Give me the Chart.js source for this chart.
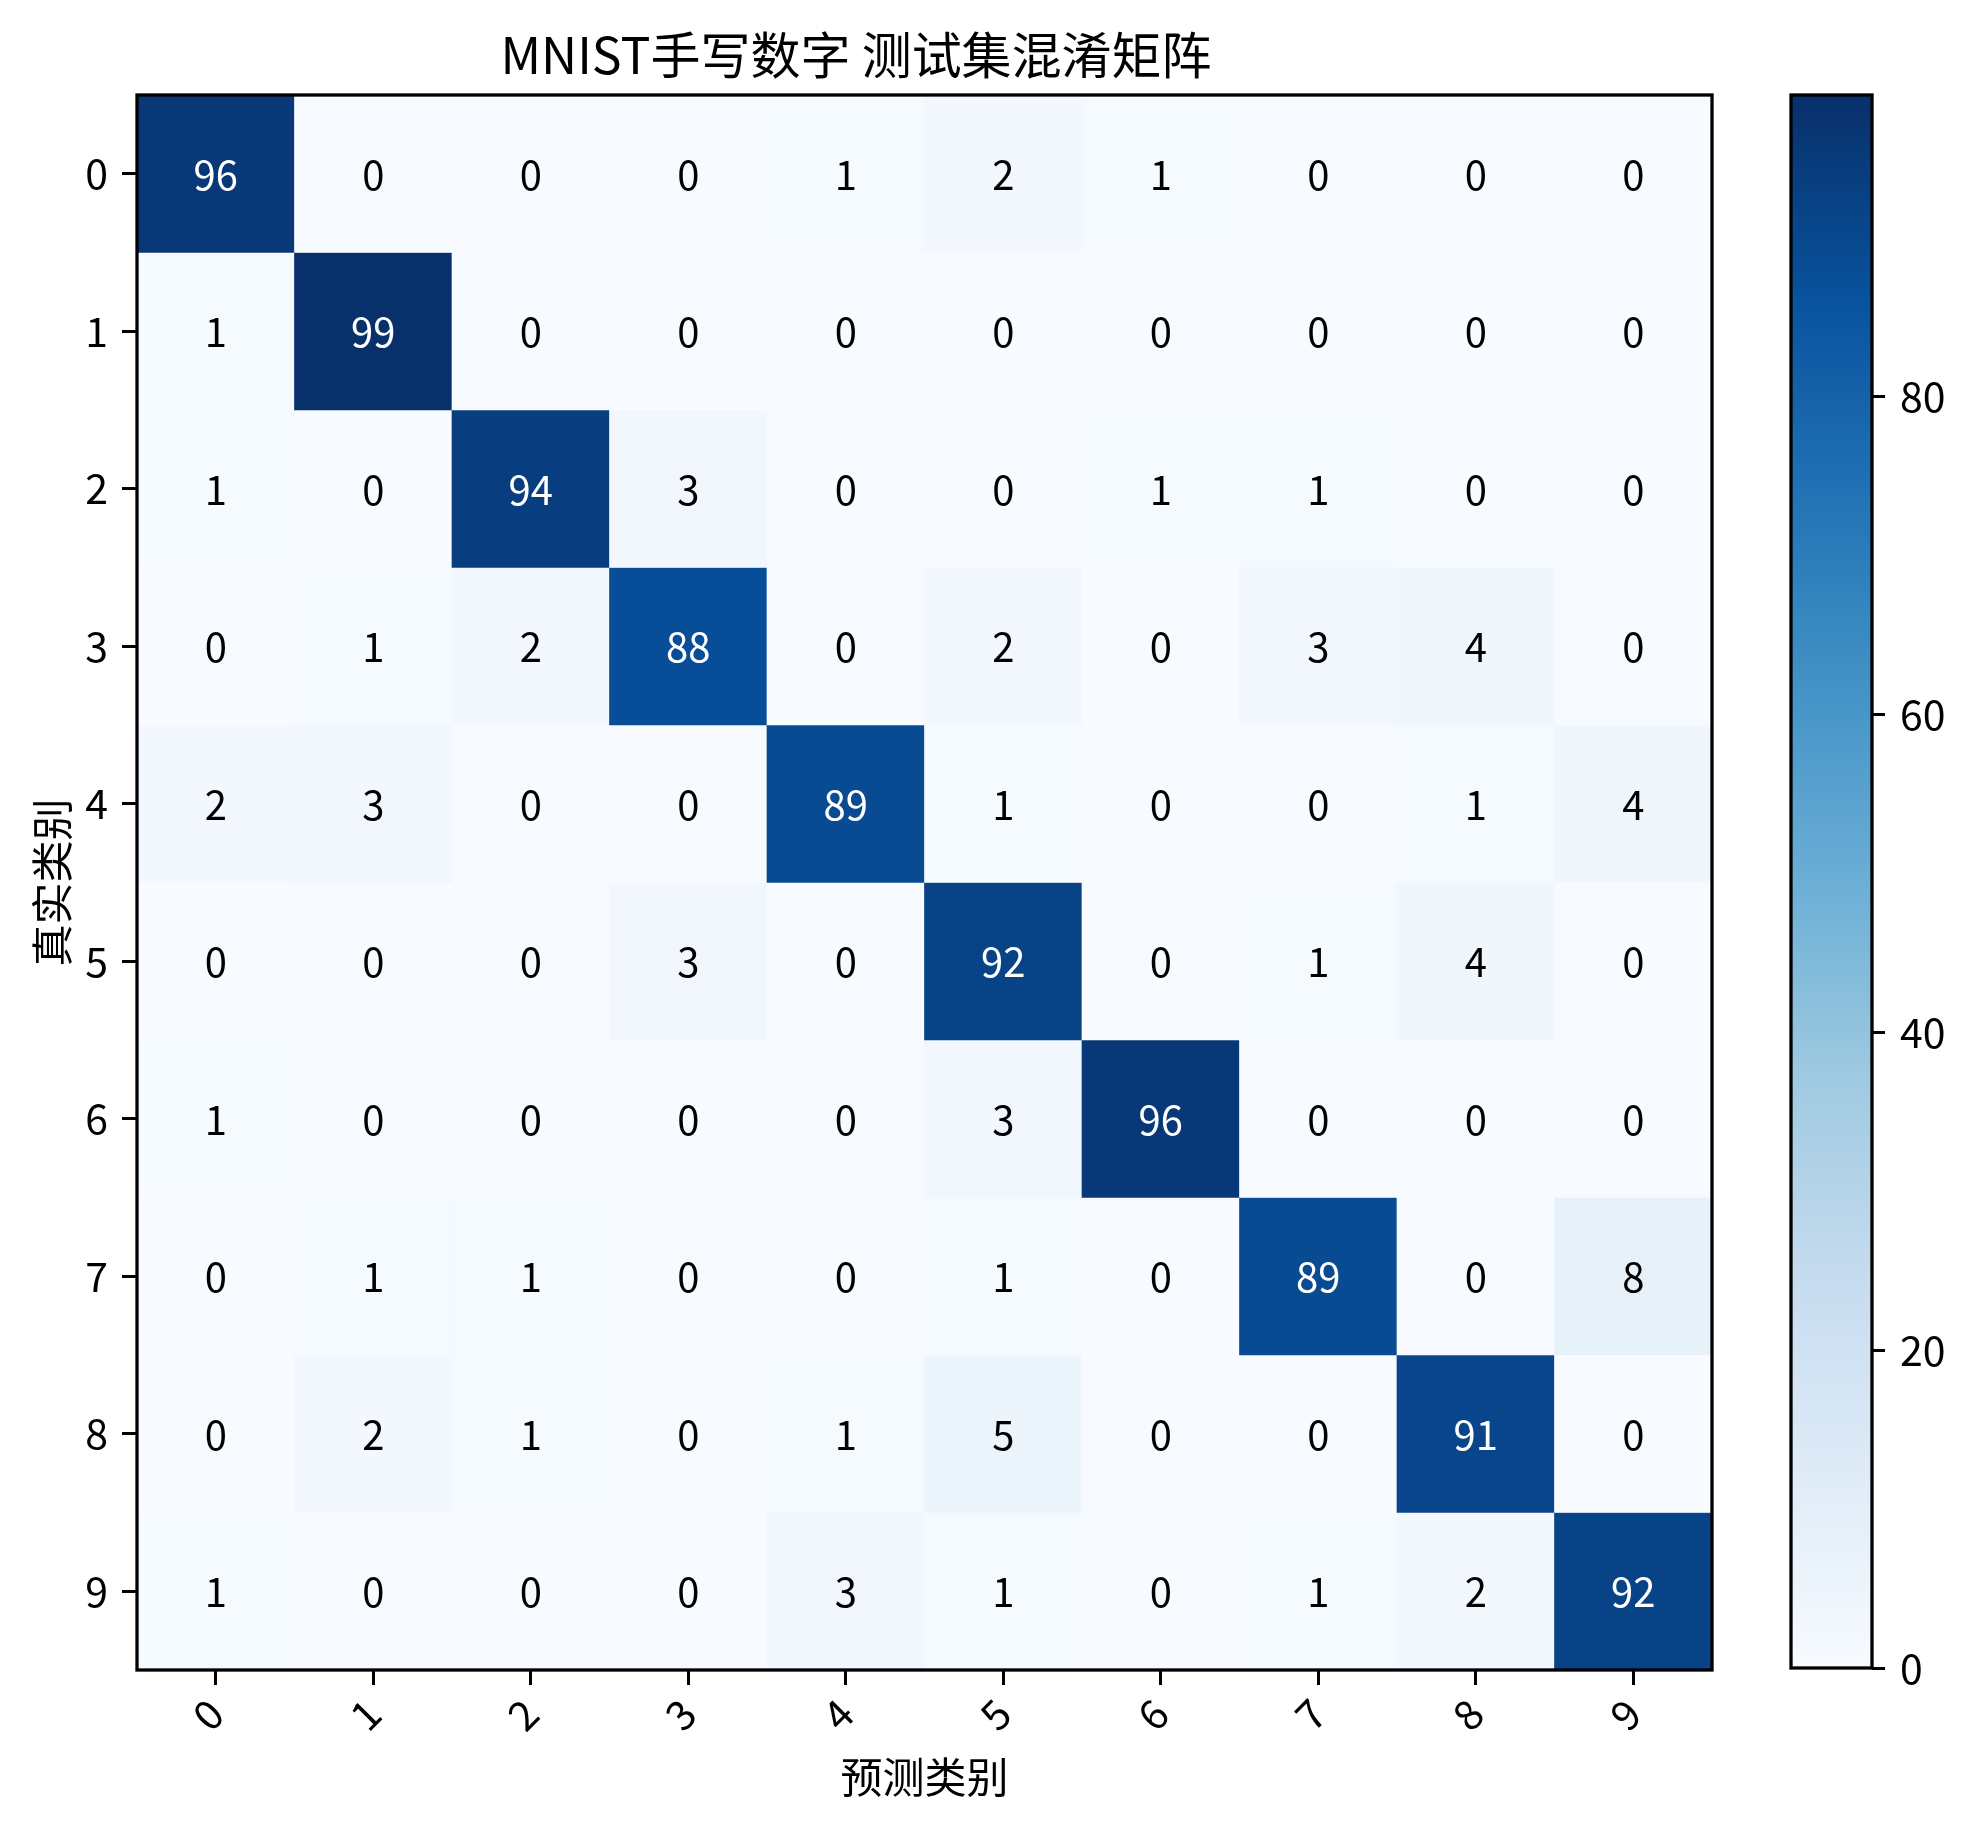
<!DOCTYPE html>
<html>
<head>
<meta charset="utf-8">
<title>MNIST手写数字 测试集混淆矩阵</title>
<script src="https://cdn.jsdelivr.net/npm/chart.js@4.4.1/dist/chart.umd.min.js"></script>
<style>
	html, body { margin: 0; padding: 0; background: #fff; }
	#wrap { position: relative; width: 1970px; height: 1826px; }
	#mainBox { position: absolute; left: 0; top: 0; width: 1849px; height: 1826px; }
	#barBox { position: absolute; left: 1700px; top: 0; width: 270px; height: 1826px; }
</style>
</head>
<body>
<div id="wrap">
	<div id="mainBox"><canvas id="cmChart"></canvas></div>
	<div id="barBox"><canvas id="cbChart"></canvas></div>
</div>
<script>
"use strict";

// class names (both axes)
const classLabels = ['0', '1', '2', '3', '4', '5', '6', '7', '8', '9'];

// confusion matrix, one row per true class
const row0 = [96, 0, 0, 0, 1, 2, 1, 0, 0, 0];
const row1 = [1, 99, 0, 0, 0, 0, 0, 0, 0, 0];
const row2 = [1, 0, 94, 3, 0, 0, 1, 1, 0, 0];
const row3 = [0, 1, 2, 88, 0, 2, 0, 3, 4, 0];
const row4 = [2, 3, 0, 0, 89, 1, 0, 0, 1, 4];
const row5 = [0, 0, 0, 3, 0, 92, 0, 1, 4, 0];
const row6 = [1, 0, 0, 0, 0, 3, 96, 0, 0, 0];
const row7 = [0, 1, 1, 0, 0, 1, 0, 89, 0, 8];
const row8 = [0, 2, 1, 0, 1, 5, 0, 0, 91, 0];
const row9 = [1, 0, 0, 0, 3, 1, 0, 1, 2, 92];
const confusion = [row0, row1, row2, row3, row4, row5, row6, row7, row8, row9];

// colorbar ticks
const colorbarTicks = [0, 20, 40, 60, 80];

const FONT = "'Noto Sans CJK SC', 'Noto Sans', sans-serif";
const vmax = Math.max.apply(null, confusion.map(function (r) { return Math.max.apply(null, r); }));

// matplotlib "Blues"
const bluesStops = ['#f7fbff', '#deebf7', '#c6dbef', '#9ecae1', '#6baed6', '#4292c6', '#2171b5', '#08519c', '#08306b'];

function hexToRgb(h) {
	return [parseInt(h.substr(1, 2), 16), parseInt(h.substr(3, 2), 16), parseInt(h.substr(5, 2), 16)];
}

function blues(t) {
	t = Math.max(0, Math.min(1, t));
	var pos = t * (bluesStops.length - 1);
	var k = Math.min(Math.floor(pos), bluesStops.length - 2);
	var f = pos - k;
	var a = hexToRgb(bluesStops[k]), b = hexToRgb(bluesStops[k + 1]);
	var c = a.map(function (v, n) { return Math.round(v + (b[n] - v) * f); });
	return 'rgb(' + c.join(',') + ')';
}

// numbers in cells + black frame round the plot
const cellText = {
	id: 'cellText',
	afterDatasetsDraw: function (chart) {
		var ctx = chart.ctx, xs = chart.scales.x, ys = chart.scales.y;
		ctx.save();
		ctx.font = '40px ' + FONT;
		ctx.textAlign = 'center';
		ctx.textBaseline = 'middle';
		confusion.forEach(function (row, i) {
			row.forEach(function (v, j) {
				ctx.fillStyle = v > vmax / 2 ? '#ffffff' : '#000000';
				ctx.fillText(String(v), xs.getPixelForValue(j), ys.getPixelForValue(i) + 1);
			});
		});
		ctx.restore();
	}
};

const frame = {
	id: 'frame',
	afterDatasetsDraw: function (chart) {
		var a = chart.chartArea, ctx = chart.ctx;
		ctx.save();
		ctx.lineWidth = 3.3;
		ctx.strokeStyle = '#000';
		ctx.strokeRect(a.left, a.top, a.right - a.left, a.bottom - a.top);
		ctx.restore();
	}
};

const datasets = confusion.map(function (row, i) {
	return {
		label: classLabels[i],
		data: row.map(function () { return [i - 0.5, i + 0.5]; }),
		backgroundColor: row.map(function (v) { return blues(v / vmax); }),
		borderWidth: 0,
		grouped: false,
		barPercentage: 1,
		categoryPercentage: 1
	};
});

var tickFont = { family: FONT, size: 41 };

new Chart(document.getElementById('cmChart'), {
	type: 'bar',
	data: { labels: classLabels, datasets: datasets },
	options: {
		responsive: true,
		maintainAspectRatio: false,
		animation: false,
		layout: { padding: { left: 0, right: 137, top: 0, bottom: 0 } },
		plugins: {
			legend: { display: false },
			tooltip: { enabled: false },
			title: {
				display: true,
				text: 'MNIST手写数字 测试集混淆矩阵',
				color: '#000',
				font: { family: FONT, size: 50, weight: 'normal', lineHeight: 1.2 },
				padding: { top: 25, bottom: 10 }
			}
		},
		scales: {
			x: {
				type: 'category',
				offset: true,
				grid: { display: true, drawOnChartArea: false, drawTicks: true, tickLength: 15, tickWidth: 3, tickColor: '#000', offset: false },
				border: { display: false },
				ticks: { color: '#000', font: tickFont, minRotation: 45, maxRotation: 45, autoSkip: false, padding: 4 },
				title: {
					display: true, text: '预测类别', color: '#000',
					font: { family: FONT, size: 42, lineHeight: 1.2 },
					padding: { top: 24, bottom: 24 }
				},
				afterFit: function (scale) { scale.height = 156; }
			},
			y: {
				type: 'linear',
				min: -0.5,
				max: 9.5,
				reverse: true,
				afterBuildTicks: function (scale) {
					scale.ticks = classLabels.map(function (_, i) { return { value: i }; });
				},
				grid: { display: true, drawOnChartArea: false, drawTicks: true, tickLength: 15, tickWidth: 3, tickColor: '#000' },
				border: { display: false },
				ticks: {
					color: '#000', font: tickFont, padding: 14,
					callback: function (v) { return classLabels[v]; }
				},
				title: {
					display: true, text: '真实类别', color: '#000',
					font: { family: FONT, size: 42, lineHeight: 1.2 },
					padding: { top: 27, bottom: 27 }
				},
				afterFit: function (scale) { scale.width = 137; }
			}
		}
	},
	plugins: [cellText, frame]
});

// colorbar
new Chart(document.getElementById('cbChart'), {
	type: 'bar',
	data: {
		labels: [''],
		datasets: [{
			data: [[0, vmax]],
			backgroundColor: function (c) {
				var chart = c.chart, s = chart.scales.y;
				if (!chart.chartArea || !s) return bluesStops[0];
				var g = chart.ctx.createLinearGradient(0, s.getPixelForValue(0), 0, s.getPixelForValue(vmax));
				bluesStops.forEach(function (col, k) { g.addColorStop(k / (bluesStops.length - 1), col); });
				return g;
			},
			borderWidth: 0,
			barPercentage: 1,
			categoryPercentage: 1
		}]
	},
	options: {
		responsive: true,
		maintainAspectRatio: false,
		animation: false,
		layout: { padding: { left: 91, right: 0, top: 95, bottom: 158 } },
		plugins: { legend: { display: false }, tooltip: { enabled: false } },
		scales: {
			x: { display: false, offset: true },
			y: {
				position: 'right',
				min: 0,
				max: vmax,
				afterBuildTicks: function (scale) {
					scale.ticks = colorbarTicks.map(function (v) { return { value: v }; });
				},
				grid: { display: true, drawOnChartArea: false, drawTicks: true, tickLength: 13, tickWidth: 3, tickColor: '#000' },
				border: { display: false },
				ticks: { color: '#000', font: tickFont, padding: 15 },
				afterFit: function (scale) { scale.width = 98; }
			}
		}
	},
	plugins: [frame]
});
</script>
</body>
</html>
